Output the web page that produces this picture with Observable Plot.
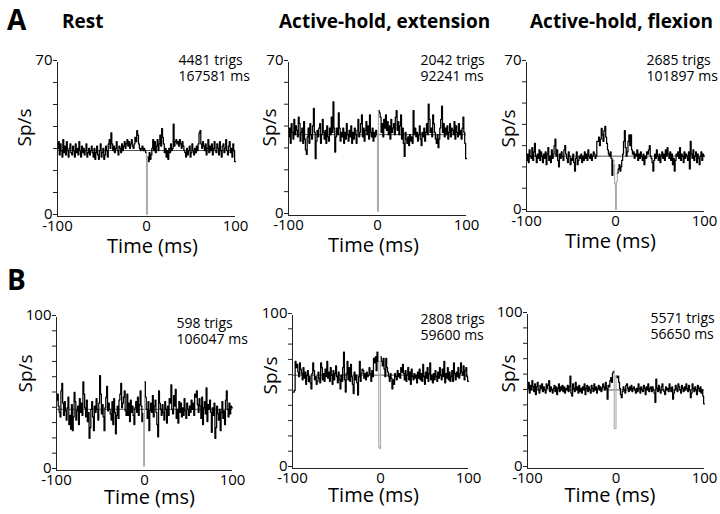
<!DOCTYPE html>
<html><head><meta charset="utf-8">
<script src="https://cdn.jsdelivr.net/npm/d3@7"></script>
<script src="https://cdn.jsdelivr.net/npm/@observablehq/plot@0.6"></script>
<style>
body{margin:0;background:#fff;}
#root{position:relative;width:720px;height:514px;overflow:hidden;font-family:"Open Sans",sans-serif;color:#000;}
.abs{position:absolute;line-height:1;white-space:nowrap;}
.row{font-weight:700;font-size:28px;}
.title{font-weight:700;font-size:19px;}
svg{overflow:visible;}
</style></head><body><div id="root"></div>
<script>
// ---------- data ----------
const rowLabels = ["A", "B"];
const conditions = ["Rest", "Active-hold, extension", "Active-hold, flexion"];
const trigCounts = ["4481 trigs", "2042 trigs", "2685 trigs", "598 trigs", "2808 trigs", "5571 trigs"];
const durations = ["167581 ms", "92241 ms", "101897 ms", "106047 ms", "59600 ms", "56650 ms"];
const yMax = [70, 70, 70, 100, 100, 100];
const baselines = [30, 37, 26, 40, 61, 51];
const xTicks = [-100, 0, 100];
const binStarts = d3.range(-100, 100); // 1-ms bins
// bins (start times) drawn in grey around the trigger
const triggerBins = [[0, 0], [0, 0], [-2, 1], [-1, -1], [-2, -1], [-2, -1]];

const restA = [
31,34,28,33,30,27,35,29,32,28,34,30,27,31,33,29,28,32,30,27,
33,29,31,28,34,30,27,32,29,31,28,30,33,27,29,31,28,30,32,29,
27,31,26,29,32,28,26,30,33,27,29,31,26,28,32,30,27,33,35,31,
38,33,30,32,29,31,34,30,28,32,31,29,33,30,32,34,31,33,35,32,
34,31,33,35,32,31,33,36,34,39,37,33,31,30,31,32,30,31,30,29,
1,27,25,29,26,28,31,35,30,34,29,32,35,30,33,37,32,40,36,33,
29,31,27,30,26,31,29,33,30,31,42,32,34,35,33,34,32,35,33,31,
34,32,30,29,27,31,28,30,32,27,29,33,30,28,31,29,32,30,33,38,
39,33,31,34,32,30,33,28,31,35,29,32,30,33,28,31,34,30,29,33,
31,28,34,30,27,32,33,29,31,35,30,28,32,34,29,31,27,33,30,25];
const extensionA = [
36,40,33,42,38,35,44,37,41,39,36,45,42,34,38,40,33,43,35,30,
28,36,40,33,42,37,35,41,49,38,26,34,39,36,40,42,33,37,44,38,
35,39,33,41,36,34,40,37,45,38,52,40,29,36,40,37,47,40,34,38,
36,40,33,38,35,42,37,34,39,36,41,33,38,35,40,37,33,39,44,36,
38,42,46,36,40,34,39,43,37,41,35,46,38,36,40,34,38,36,39,37,
2,48,47,45,38,42,36,44,40,46,39,43,37,41,35,44,38,40,42,37,
45,48,39,43,37,41,46,35,40,33,27,38,35,33,36,32,37,34,36,33,
48,37,40,36,38,34,37,41,35,32,38,36,40,34,38,42,37,51,44,38,
40,36,46,42,38,35,33,37,31,35,40,44,50,38,42,36,40,37,41,35,
38,42,36,40,39,37,43,35,41,38,36,42,37,39,35,40,45,38,33,26];
const flexionA = [
24,27,23,29,26,25,30,24,28,32,26,23,27,25,29,24,28,26,23,27,
25,28,22,27,30,24,26,23,29,25,27,31,34,26,29,24,21,27,25,28,
26,24,29,31,27,25,23,28,26,22,25,24,27,23,19,25,28,22,24,26,
25,27,23,26,24,28,25,27,24,29,26,25,27,24,26,28,27,25,26,33,
33,35,31,34,39,36,33,38,40,35,32,29,27,26,28,25,17,24,22,13,
1,14,18,20,22,19,21,24,27,33,38,30,26,28,33,36,31,36,29,27,
28,25,27,26,29,24,27,25,28,26,24,27,22,26,25,28,27,29,31,26,
25,23,19,24,27,25,29,26,24,27,23,26,28,25,27,24,29,26,30,27,
25,28,24,27,22,25,19,24,27,26,28,25,30,24,27,26,23,28,25,27,
26,24,28,20,33,27,25,29,24,26,28,23,27,25,22,26,28,24,27,26];
const restB = [
46,50,42,38,35,52,57,44,36,45,39,33,41,48,30,36,27,43,26,35,
51,45,33,39,42,30,47,38,44,36,58,50,41,35,46,32,38,21,28,40,
45,35,26,42,38,47,40,33,44,62,50,37,43,35,26,41,48,55,39,44,
40,37,33,45,30,47,38,24,36,42,34,46,50,57,41,44,48,52,39,36,
50,36,44,32,46,38,42,36,30,41,45,38,48,36,43,52,42,32,37,3,
58,48,40,34,45,26,39,44,38,49,35,42,46,38,30,22,52,44,40,36,
43,38,33,45,40,31,42,36,47,44,56,40,37,49,42,53,34,40,31,45,
38,44,35,41,36,47,39,34,44,40,36,42,38,46,40,44,36,50,48,52,
43,38,47,42,34,48,30,41,45,37,54,32,43,40,46,38,25,41,36,44,
21,28,42,37,33,40,26,38,45,34,39,30,46,52,40,35,44,37,42,41];
const extensionB = [
50,50,51,70,66,68,63,60,69,65,62,58,66,59,63,55,61,64,57,60,
56,52,62,69,64,58,60,55,57,63,59,56,69,66,58,62,57,65,60,70,
59,63,57,66,61,55,64,58,62,67,60,56,63,58,52,61,57,66,76,58,
50,62,70,58,66,57,68,60,55,49,63,58,61,56,48,60,70,57,62,65,
64,59,62,58,63,60,61,66,62,57,64,60,72,69,73,64,76,70,14,13,
73,70,67,72,65,60,72,66,63,60,57,62,59,52,58,55,62,60,58,64,
60,62,59,66,63,68,62,58,64,57,61,66,58,63,55,65,60,58,62,59,
61,56,63,59,65,58,62,57,68,60,55,63,59,66,57,62,69,58,61,56,
62,58,64,60,57,63,59,66,61,58,65,60,70,56,62,59,66,58,63,57,
60,64,57,69,62,58,63,60,66,59,62,69,63,61,67,58,64,66,60,57];
const flexionB = [
52,56,49,54,51,57,53,50,55,48,53,56,51,49,54,52,55,50,53,51,
49,55,52,54,57,50,53,51,49,52,54,50,53,48,52,55,50,53,51,54,
50,53,49,52,51,54,50,53,60,49,47,55,52,50,56,51,53,49,54,50,
52,49,53,51,55,48,52,54,50,53,51,49,54,52,50,55,51,53,49,52,
54,51,53,50,52,55,53,51,56,52,45,54,53,57,59,56,62,63,26,26,
60,59,60,56,52,48,46,50,53,51,49,54,55,52,50,53,51,54,50,52,
53,51,49,52,50,55,52,49,53,51,50,54,52,48,53,51,55,50,52,53,
50,53,51,49,43,58,52,50,54,51,49,53,55,51,50,48,53,51,52,50,
55,52,50,53,45,49,51,54,52,50,55,53,51,49,54,52,50,53,51,55,
52,50,54,51,46,49,55,52,50,53,51,48,54,52,50,53,49,51,47,42];
const series = [restA, extensionA, flexionA, restB, extensionB, flexionB];

// ---------- layout ----------
const frames = [
  {left: 57, top: 62, w: 178, h: 154, labDx: -33, labDy: 65, noteDx: 121, noteDy: -9, timeDx: 6},
  {left: 288, top: 62, w: 178, h: 153, labDx: -19, labDy: 65, noteDx: 132, noteDy: -9, timeDx: -4},
  {left: 526, top: 62, w: 178, h: 149, labDx: -18, labDy: 66, noteDx: 120, noteDy: -9, timeDx: -5},
  {left: 56, top: 317, w: 176, h: 153, labDx: -31, labDy: 56, noteDx: 120, noteDy: -1, timeDx: 5},
  {left: 292, top: 315, w: 176, h: 153, labDx: -22, labDy: 60, noteDx: 128, noteDy: -3, timeDx: -7},
  {left: 527, top: 314, w: 177, h: 154, labDx: -19, labDy: 59, noteDx: 123, noteDy: -3, timeDx: -6}
];
const root = document.getElementById("root");
const mL = 50, mR = 30, mT = 20, mB = 50;
const FONT = "'Open Sans', sans-serif";

function addText(txt, cls, left, baseline, size) {
  const d = document.createElement("div");
  d.className = "abs " + cls;
  d.textContent = txt;
  d.style.left = left + "px";
  d.style.top = (baseline - 0.888 * size) + "px";
  root.appendChild(d);
}
addText(rowLabels[0], "row", 7, 30, 28);
addText(rowLabels[1], "row", 7, 290, 28);
[62, 279, 530].forEach((x, i) => addText(conditions[i], "title", x, 29, 19));

series.forEach((values, i) => {
  const f = frames[i];
  const ymax = yMax[i];
  const [d0, d1] = triggerBins[i];
  const vAt = t => values[t + 100];
  const black = [];
  for (const t of binStarts) {
    if (t === d0) { black.push({t, v: vAt(t - 1)}); black.push({t, v: NaN}); }
    else if (t < d0 || t > d1) black.push({t, v: vAt(t)});
  }
  black.push({t: 100, v: values[values.length - 1]});
  const grey = [{t: d0, v: vAt(d0 - 1)}];
  for (let t = d0; t <= d1; t++) grey.push({t, v: vAt(t)});
  grey.push({t: d1 + 1, v: vAt(d1 + 1)});

  const chart = Plot.plot({
    width: mL + f.w + mR, height: mT + f.h + mB,
    marginLeft: mL, marginRight: mR, marginTop: mT, marginBottom: mB,
    x: {domain: [-100, 100]},
    y: {domain: [0, ymax]},
    style: {fontFamily: FONT, color: "#000", background: "transparent", overflow: "visible"},
    marks: [
      Plot.ruleY([baselines[i]], {stroke: "#444", strokeWidth: 0.9}),
      Plot.lineY(black, {x: "t", y: "v", curve: "step-after", stroke: "#000", strokeWidth: 1.25}),
      Plot.lineY(grey, {x: "t", y: "v", curve: "step-after", stroke: "#aaa", strokeWidth: 1.1}),
      Plot.ruleX([-100], {stroke: "#222"}),
      Plot.ruleY([0], {stroke: "#222"}),
      Plot.axisY({ticks: d3.range(0, ymax + 1, 10), tickSize: 4, tickPadding: 1, dy: -2,
        tickFormat: d => (d === 0 || d === ymax) ? String(d) : "", fontSize: 15, label: null, stroke: "#222"}),
      Plot.axisX({ticks: xTicks, tickSize: 0, tickPadding: 4, tickFormat: d => String(d), fontSize: 15, label: null}),
      Plot.text([trigCounts[i] + "\n" + durations[i]], {text: d => d, frameAnchor: "top-left", textAnchor: "start",
        lineAnchor: "top", dx: f.noteDx, dy: f.noteDy, fontSize: 14, lineHeight: 1.15}),
      Plot.text(["Sp/s"], {text: d => d, frameAnchor: "top-left", textAnchor: "middle", lineAnchor: "middle",
        rotate: -90, dx: f.labDx, dy: f.labDy, fontSize: 19}),
      Plot.text(["Time (ms)"], {text: d => d, frameAnchor: "bottom", lineAnchor: "bottom",
        dx: f.timeDx, dy: i < 3 ? 36 : 33, fontSize: 20})
    ]
  });
  chart.style.position = "absolute";
  chart.style.left = (f.left - mL) + "px";
  chart.style.top = (f.top - mT) + "px";
  root.appendChild(chart);
});
</script></body></html>
